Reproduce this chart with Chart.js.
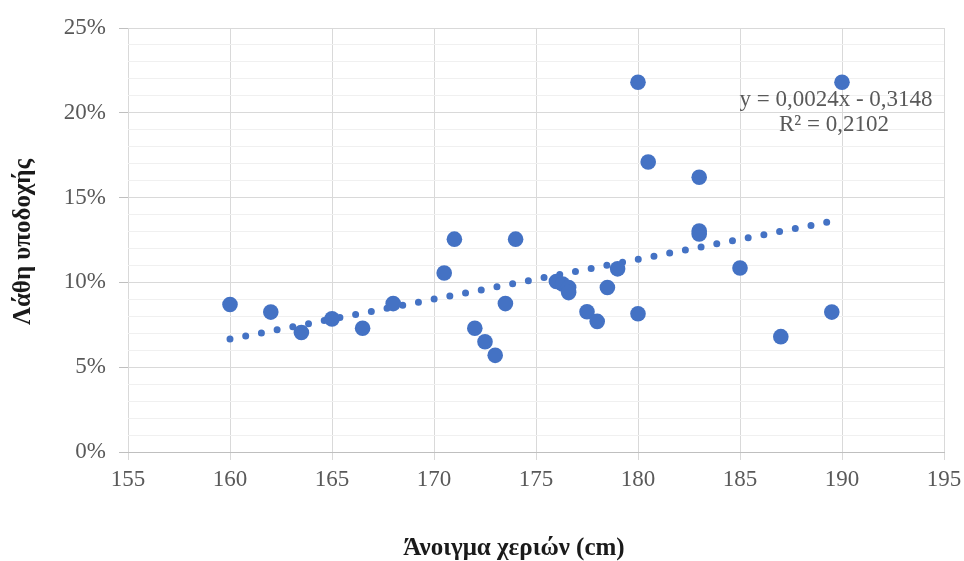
<!DOCTYPE html>
<html>
<head>
<meta charset="utf-8">
<script src="https://cdn.jsdelivr.net/npm/chart.js@4"></script>
<style>
  html, body { margin: 0; padding: 0; background: #ffffff; }
  #wrap { width: 964px; height: 561px; position: relative; }
</style>
</head>
<body>
<div id="wrap"><canvas id="c" width="964" height="561"></canvas></div>
<script>
// ---- data ----
const handSpan = [160, 162, 163.5, 165, 166.5, 168, 170.5, 171, 172, 172.5, 173, 173.5, 174,
                  176, 176.3, 176.6, 176.6, 177.5, 178, 178.5, 179, 180, 180, 180.5,
                  183, 183, 183, 185, 187, 189.5, 190];
const errorRate = [0.087, 0.0825, 0.0705, 0.0785, 0.073, 0.0875, 0.1055, 0.1255, 0.073, 0.065, 0.057, 0.0875, 0.1255,
                   0.1005, 0.099, 0.097, 0.094, 0.0827, 0.077, 0.097, 0.108, 0.218, 0.0815, 0.171,
                   0.162, 0.1303, 0.1285, 0.1085, 0.068, 0.0825, 0.218];
const trendX = [160, 189.5];
const trendY = [0.0666, 0.136];
const xTitle = 'Άνοιγμα χεριών (cm)';
const yTitle = 'Λάθη υποδοχής';
const equationLines = ['y = 0,0024x - 0,3148', 'R² = 0,2102'];
const xMin = 155, xMax = 195, xStep = 5;
const yMin = 0, yMax = 0.25, yMinorStep = 0.01, yMajorEvery = 5;

const scatterPoints = handSpan.map((x, i) => ({ x: x, y: errorRate[i] }));
const trendPoints = trendX.map((x, i) => ({ x: x, y: trendY[i] }));

const FONT = "'Liberation Serif', 'Times New Roman', serif";
const BLUE = '#4472C4';

const isMajor = v => Math.round(v * 100) % yMajorEvery === 0;

const textPlugin = {
  id: 'texts',
  afterDraw(chart) {
    const ctx = chart.ctx;
    ctx.save();
    ctx.fillStyle = '#1a1a1a';
    ctx.font = "bold 25px " + FONT;
    ctx.textAlign = 'center';
    ctx.textBaseline = 'middle';
    ctx.translate(24, 242);
    ctx.rotate(-Math.PI / 2);
    ctx.fillText(yTitle, 0, 0);
    ctx.restore();

    ctx.save();
    ctx.fillStyle = '#1a1a1a';
    ctx.font = "bold 25px " + FONT;
    ctx.textAlign = 'center';
    ctx.textBaseline = 'middle';
    ctx.fillText(xTitle, 514, 549);
    ctx.restore();

    ctx.save();
    ctx.fillStyle = '#595959';
    ctx.font = "23px " + FONT;
    ctx.textAlign = 'center';
    ctx.textBaseline = 'middle';
    ctx.fillText(equationLines[0], 836, 100);
    ctx.fillText(equationLines[1], 834, 125);
    ctx.restore();
  }
};

new Chart(document.getElementById('c'), {
  type: 'scatter',
  data: {
    datasets: [
      {
        label: 'data',
        data: scatterPoints,
        backgroundColor: BLUE,
        borderColor: BLUE,
        borderWidth: 0,
        pointRadius: 7.8,
        pointHoverRadius: 7.8,
        order: 1
      },
      {
        label: 'trend',
        data: trendPoints,
        showLine: true,
        borderColor: BLUE,
        backgroundColor: BLUE,
        borderWidth: 7,
        borderDash: [0, 16],
        borderCapStyle: 'round',
        pointRadius: 0,
        fill: false,
        tension: 0,
        order: 2
      }
    ]
  },
  options: {
    responsive: false,
    animation: false,
    devicePixelRatio: 1,
    layout: { padding: { top: 28, right: 20, left: 0, bottom: 0 } },
    plugins: {
      legend: { display: false },
      tooltip: { enabled: false },
      title: { display: false }
    },
    scales: {
      x: {
        type: 'linear',
        min: xMin, max: xMax,
        afterFit(scale) { scale.height = 109; scale.paddingRight = 0; scale.paddingLeft = 0; },
        ticks: {
          stepSize: xStep,
          color: '#595959',
          font: { family: FONT, size: 23 },
          padding: 6,
          maxRotation: 0
        },
        grid: {
          color: '#d9d9d9',
          tickColor: '#d9d9d9',
          tickLength: 8,
          lineWidth: 1
        },
        border: { display: true, color: '#bfbfbf', width: 1 }
      },
      y: {
        type: 'linear',
        min: yMin, max: yMax,
        afterFit(scale) { scale.width = 128; scale.paddingTop = 0; scale.paddingBottom = 0; },
        ticks: {
          stepSize: yMinorStep,
          autoSkip: false,
          color: '#595959',
          font: { family: FONT, size: 23 },
          padding: 13,
          callback: v => isMajor(v) ? Math.round(v * 100) + '%' : ''
        },
        grid: {
          color: c => {
            const v = c.tick ? c.tick.value : 0;
            if (Math.round(v * 100) === 0) return '#bfbfbf';
            return isMajor(v) ? '#d9d9d9' : '#f0f0f0';
          },
          tickColor: c => (c.tick && isMajor(c.tick.value)) ? '#bfbfbf' : 'rgba(0,0,0,0)',
          tickLength: 9,
          lineWidth: 1
        },
        border: { display: false }
      }
    }
  },
  plugins: [textPlugin]
});
</script>
</body>
</html>
